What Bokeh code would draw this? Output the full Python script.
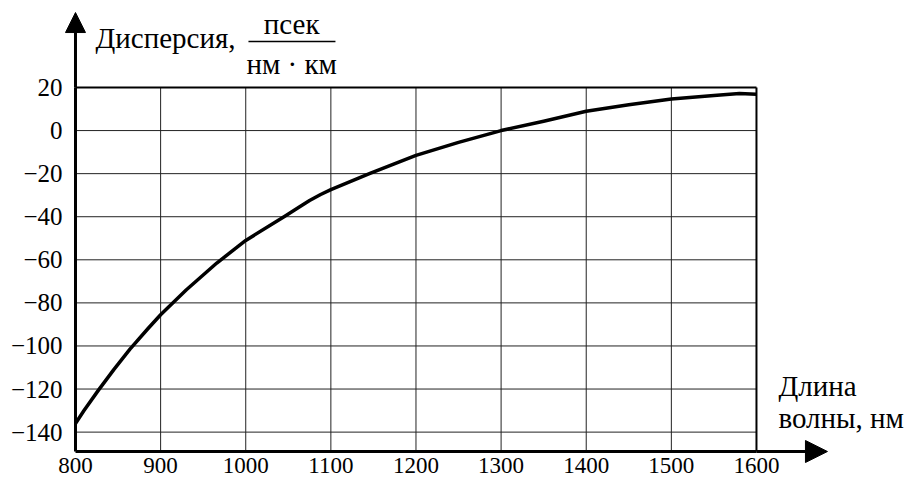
from bokeh.plotting import figure
from bokeh.models import Label, Arrow, NormalHead, FixedTicker, Range1d
from bokeh.embed import file_html
from bokeh.resources import INLINE

# Data
wavelength = [800, 810, 827, 845, 864, 885, 900, 930, 966, 1000, 1045, 1062, 1075, 1088,
              1100, 1146, 1200, 1250, 1300, 1350, 1400, 1450, 1500, 1550, 1580, 1600]
dispersion = [-136, -130, -120.5, -111, -101.5, -92, -85.5, -74, -61.5, -51, -40, -35.7, -32.5, -29.7,
              -27.4, -19.9, -11.5, -5.5, 0, 4.3, 9, 12, 14.7, 16.3, 17.2, 16.9]

x_ticks = [800, 900, 1000, 1100, 1200, 1300, 1400, 1500, 1600]
y_ticks = [20, 0, -20, -40, -60, -80, -100, -120, -140]
y_tick_labels = {t: (str(t) if t >= 0 else "\u2212" + str(-t)) for t in y_ticks}

X_MIN, X_MAX = 800, 1600
Y_MIN, Y_MAX = -149, 20

y_title = "Дисперсия,"
unit_num = "псек"
unit_den = "нм · км"
x_title_1 = "Длина"
x_title_2 = "волны, нм"

FONT = "Liberation Serif"

p = figure(width=908, height=480, output_backend="svg", toolbar_location=None,
           x_range=Range1d(711.9, 1778.6), y_range=Range1d(-162.46, 60.39),
           min_border=0)
p.title.visible = False
p.background_fill_color = "white"
p.border_fill_color = "white"
p.outline_line_color = None
p.xgrid.visible = False
p.ygrid.visible = False

xa = p.xaxis[0]
ya = p.yaxis[0]
xa.fixed_location = Y_MIN
ya.fixed_location = X_MIN
xa.bounds = (X_MIN, X_MAX)
ya.bounds = (Y_MIN, Y_MAX)
for ax in (xa, ya):
    ax.axis_line_width = 3
    ax.axis_line_color = "black"
    ax.major_tick_line_color = None
    ax.minor_tick_line_color = None
    ax.major_label_text_color = "black"
    ax.major_label_text_font = FONT
xa.major_label_text_font_size = "23px"
ya.major_label_text_font_size = "25px"
xa.ticker = FixedTicker(ticks=x_ticks)
ya.ticker = FixedTicker(ticks=y_ticks)
ya.major_label_overrides = y_tick_labels
xa.major_label_standoff = 0
ya.major_label_standoff = 7

# Grid lines (interior) and frame lines (top, right)
inner_x = [t for t in x_ticks if X_MIN < t < X_MAX]
inner_y = [t for t in y_ticks if Y_MIN < t < Y_MAX]
p.segment(x0=inner_x, y0=[Y_MIN] * len(inner_x), x1=inner_x, y1=[Y_MAX] * len(inner_x),
          line_color="#222222", line_width=1)
p.segment(x0=[X_MIN] * len(inner_y), y0=inner_y, x1=[X_MAX] * len(inner_y), y1=inner_y,
          line_color="#222222", line_width=1)
p.segment(x0=[X_MIN, X_MAX], y0=[Y_MAX, Y_MIN], x1=[X_MAX, X_MAX], y1=[Y_MAX, Y_MAX],
          line_color="black", line_width=2)

p.line(wavelength, dispersion, line_color="black", line_width=3.5, line_join="round")

# Axis arrows
p.add_layout(Arrow(x_start=X_MIN, y_start=Y_MAX, x_end=X_MIN, y_end=54.8,
                   line_width=3, line_color="black",
                   end=NormalHead(size=20, fill_color="black", line_color="black")))
p.add_layout(Arrow(x_start=X_MAX, y_start=Y_MIN, x_end=1683.4, y_end=Y_MIN,
                   line_width=3, line_color="black",
                   end=NormalHead(size=22, fill_color="black", line_color="black")))

# Y title with fraction
p.add_layout(Label(x=823.5, y=43.2, text=y_title, text_font=FONT, text_font_size="29px",
                   text_align="left", text_baseline="alphabetic", text_color="black"))
p.add_layout(Label(x=1054, y=49.7, text=unit_num, text_font=FONT, text_font_size="29px",
                   text_align="center", text_baseline="alphabetic", text_color="black"))
p.add_layout(Label(x=1054, y=30.8, text=unit_den, text_font=FONT, text_font_size="29px",
                   text_align="center", text_baseline="alphabetic", text_color="black"))
p.add_layout(Arrow(x_start=1003.2, y_start=41.35, x_end=1105.4, y_end=41.35,
                   line_width=1.5, line_color="black", end=None))

# X title
p.add_layout(Label(x=1625.8, y=-118.6, text=x_title_1, text_font=FONT, text_font_size="29px",
                   text_align="left", text_baseline="alphabetic", text_color="black"))
p.add_layout(Label(x=1625.8, y=-133.5, text=x_title_2, text_font=FONT, text_font_size="29px",
                   text_align="left", text_baseline="alphabetic", text_color="black"))

open("out.html", "w").write(file_html(p, INLINE))
